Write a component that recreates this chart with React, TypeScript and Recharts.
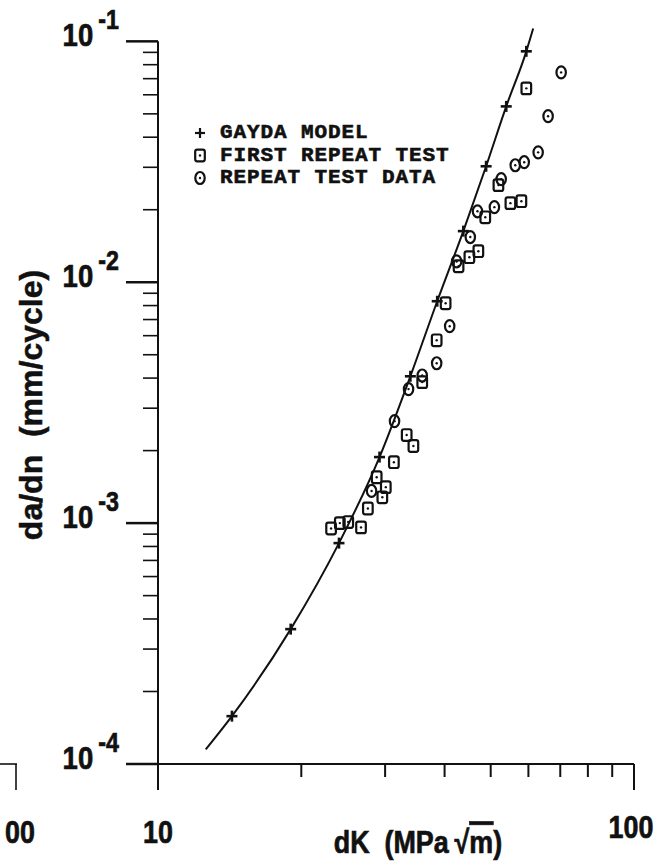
import React from "react";
import { ComposedChart, Line, Scatter, XAxis, YAxis, ReferenceLine, Legend } from "recharts";

// Gayda model curve: ends of the drawn curve plus the "+" points on it
const modelK = [12.6, 14.3, 19.0, 24.0, 29.2, 33.9, 38.6, 43.8, 48.9, 53.9, 59.4, 61.4];
const modelRate = [1.15e-4, 1.58e-4, 3.63e-4, 8.26e-4, 1.88e-3, 4.07e-3, 8.34e-3, 1.63e-2, 3.03e-2, 5.37e-2, 9.09e-2, 0.113];

const firstK = [23.1, 24.1, 25.1, 26.7, 27.6, 29.6, 30.1, 28.8, 31.3, 33.3, 34.4, 35.9, 38.5, 40.2, 42.8, 45.1, 47.1, 48.7, 51.9, 55.0, 58.0, 59.4];
const firstRate = [9.5e-4, 1.0e-3, 1.01e-3, 9.6e-4, 1.15e-3, 1.28e-3, 1.41e-3, 1.55e-3, 1.79e-3, 2.32e-3, 2.09e-3, 3.85e-3, 5.74e-3, 8.18e-3, 1.165e-2, 1.27e-2, 1.345e-2, 1.86e-2, 2.53e-2, 2.13e-2, 2.17e-2, 6.38e-2];

const repeatK = [28.1, 31.4, 33.6, 35.9, 38.5, 41.0, 42.4, 45.3, 46.9, 50.9, 52.6, 56.3, 58.8, 62.9, 66.0, 70.3];
const repeatRate = [1.36e-3, 2.65e-3, 3.6e-3, 4.1e-3, 4.61e-3, 6.57e-3, 1.22e-2, 1.54e-2, 1.97e-2, 2.05e-2, 2.68e-2, 3.06e-2, 3.15e-2, 3.46e-2, 4.89e-2, 7.43e-2];

const seriesNames = ["GAYDA MODEL", "FIRST REPEAT TEST", "REPEAT TEST DATA"];

const xTicks = [10, 20, 30, 40, 50, 60, 70, 80, 90, 100];
const xLabeled = [10, 100];
const yExponents = [-4, -3, -2, -1];
const yMantissas = [1, 2, 3, 4, 5, 6, 7, 8, 9];

const yTicks = yExponents.flatMap((e) =>
  e === -1 ? [0.1] : yMantissas.map((m) => +(m * 10 ** e).toPrecision(3))
);

const modelData = modelK.map((k, i) => ({ k, rate: modelRate[i] }));
const firstData = firstK.map((k, i) => ({ k, rate: firstRate[i] }));
const repeatData = repeatK.map((k, i) => ({ k, rate: repeatRate[i] }));

const INK = "#111";
const SANS = "'Liberation Sans', Arial, sans-serif";
const MONO = "'Liberation Mono', 'Courier New', monospace";

// condensed heavy sans, like the plotter lettering
const Narrow = ({ x, y, anchor = "middle", size = 32, sx = 0.84, children }: any) => (
  <g transform={`translate(${x} ${y}) scale(${sx} 1)`}>
    <text
      x={0}
      y={0}
      textAnchor={anchor}
      fontFamily={SANS}
      fontWeight="bold"
      fontSize={size}
      fill={INK}
      stroke={INK}
      strokeWidth={0.7}
    >
      {children}
    </text>
  </g>
);

const Plus = ({ cx, cy, size = 5.5, w = 2.6 }: any) => (
  <g stroke={INK} strokeWidth={w}>
    <line x1={cx - size} y1={cy} x2={cx + size} y2={cy} />
    <line x1={cx} y1={cy - size} x2={cx} y2={cy + size} />
  </g>
);

const Box = ({ cx, cy }: any) => (
  <g>
    <rect x={cx - 4.8} y={cy - 5.8} width={9.6} height={11.6} rx={2} fill="none" stroke={INK} strokeWidth={2.2} />
    <circle cx={cx} cy={cy} r={1.2} fill={INK} />
  </g>
);

const Ring = ({ cx, cy }: any) => (
  <g>
    <ellipse cx={cx} cy={cy} rx={4.7} ry={6} fill="none" stroke={INK} strokeWidth={2.2} />
    <circle cx={cx} cy={cy} r={1.2} fill={INK} />
  </g>
);

const markers: Record<string, (p: any) => React.ReactElement> = {
  "GAYDA MODEL": (p) => <Plus {...p} size={5} w={2.2} />,
  "FIRST REPEAT TEST": (p) => <Box {...p} />,
  "REPEAT TEST DATA": (p) => <Ring {...p} />,
};

function YTick({ x, y, payload }: any) {
  const v = payload.value as number;
  const e = Math.floor(Math.log10(v) + 1e-9);
  const major = Math.abs(v / 10 ** e - 1) < 1e-6;
  return (
    <g>
      <line x1={x} y1={y} x2={x - (major ? 32 : 15)} y2={y} stroke={INK} strokeWidth={major ? 2.5 : 1.6} />
      {major && (
        <Narrow x={x - 39} y={y + 5} anchor="end" size={32} sx={0.86}>
          <tspan>10</tspan>
          <tspan fontSize={27} dx={6} dy={-17}>
            {String(e)}
          </tspan>
        </Narrow>
      )}
    </g>
  );
}

function XTick({ x, y, payload }: any) {
  const v = payload.value as number;
  const major = xLabeled.includes(v);
  return (
    <g>
      <line x1={x} y1={y} x2={x} y2={y + (major ? 26 : 13)} stroke={INK} strokeWidth={2} />
      {major && (
        <Narrow x={x - (v === 100 ? 3 : 0)} y={y + (v === 100 ? 74 : 79)}>
          {String(v)}
        </Narrow>
      )}
    </g>
  );
}

function LegendBox({ payload }: any) {
  const items = (payload ?? []).filter((p: any) => seriesNames.includes(p.value));
  items.sort((a: any, b: any) => seriesNames.indexOf(a.value) - seriesNames.indexOf(b.value));
  return (
    <svg width={290} height={75}>
      {items.map((p: any, i: number) => (
        <g key={p.value}>
          {markers[p.value]({ cx: 10, cy: 15 + i * 22.5 })}
          <text
            x={30}
            y={20 + i * 22.5}
            fontFamily={MONO}
            fontWeight="bold"
            fontSize={21}
            letterSpacing={0.9}
            fill={INK}
            stroke={INK}
            strokeWidth={0.6}
          >
            {p.value}
          </text>
        </g>
      ))}
    </svg>
  );
}

export default function App() {
  return (
    <div style={{ position: "absolute", left: 0, top: 0, width: 668, height: 865, background: "#fff" }}>
      <ComposedChart width={668} height={865} margin={{ top: 18, right: 34, bottom: 41, left: 0 }}>
        <XAxis
          dataKey="k"
          type="number"
          scale="log"
          domain={[10, 100]}
          allowDataOverflow
          ticks={xTicks}
          interval={0}
          tickSize={0}
          tickMargin={0}
          height={60}
          axisLine={{ stroke: INK, strokeWidth: 2 }}
          tickLine={false}
          tick={<XTick />}
          label={{
            content: () => (
              <Narrow x={418} y={853}>
                {"dK\u00a0\u00a0(MPa"}
                <tspan dx={7}>{"\u221a"}</tspan>
                <tspan style={{ textDecoration: "overline" }}>m</tspan>
                {")"}
              </Narrow>
            ),
          }}
        />
        <YAxis
          dataKey="rate"
          type="number"
          scale="log"
          domain={[1e-4, 0.125]}
          allowDataOverflow
          ticks={yTicks}
          interval={0}
          tickSize={0}
          tickMargin={0}
          width={158}
          axisLine={false}
          tickLine={false}
          tick={<YTick />}
          label={{
            content: () => (
              <text
                x={42}
                y={405}
                transform="rotate(-90 42 405)"
                textAnchor="middle"
                fontFamily={SANS}
                fontWeight="bold"
                fontSize={32}
                fill={INK}
                stroke={INK}
                strokeWidth={0.5}
              >
                {"da/dn\u00a0\u00a0(mm/cycle)"}
              </text>
            ),
          }}
        />
        <ReferenceLine
          segment={[{ x: 10, y: 1e-4 }, { x: 10, y: 0.1 }]}
          stroke={INK}
          strokeWidth={2}
          ifOverflow="visible"
        />
        <Legend
          layout="vertical"
          align="center"
          verticalAlign="middle"
          wrapperStyle={{ left: 190, top: 118, width: 290 }}
          content={<LegendBox />}
        />
        <Line
          name={seriesNames[0]}
          data={modelData}
          dataKey="rate"
          type="monotone"
          stroke={INK}
          strokeWidth={2}
          isAnimationActive={false}
          dot={(p: any) =>
            p.index === 0 || p.index === modelData.length - 1 ? (
              <g key={p.index} />
            ) : (
              <Plus key={p.index} cx={p.cx} cy={p.cy} />
            )
          }
          activeDot={false}
        />
        <Scatter
          name={seriesNames[1]}
          data={firstData}
          dataKey="rate"
          isAnimationActive={false}
          shape={(p: any) => <Box cx={p.cx} cy={p.cy} />}
        />
        <Scatter
          name={seriesNames[2]}
          data={repeatData}
          dataKey="rate"
          isAnimationActive={false}
          shape={(p: any) => <Ring cx={p.cx} cy={p.cy} />}
        />
      </ComposedChart>
      {/* edge of the neighbouring panel, cut off at the left */}
      <svg width={60} height={865} style={{ position: "absolute", left: 0, top: 0 }}>
        <line x1={0} y1={764} x2={17} y2={764} stroke={INK} strokeWidth={1.6} />
        <line x1={16} y1={764} x2={16} y2={790} stroke={INK} strokeWidth={1.6} />
        <Narrow x={35} y={843} anchor="end">
          00
        </Narrow>
      </svg>
    </div>
  );
}
